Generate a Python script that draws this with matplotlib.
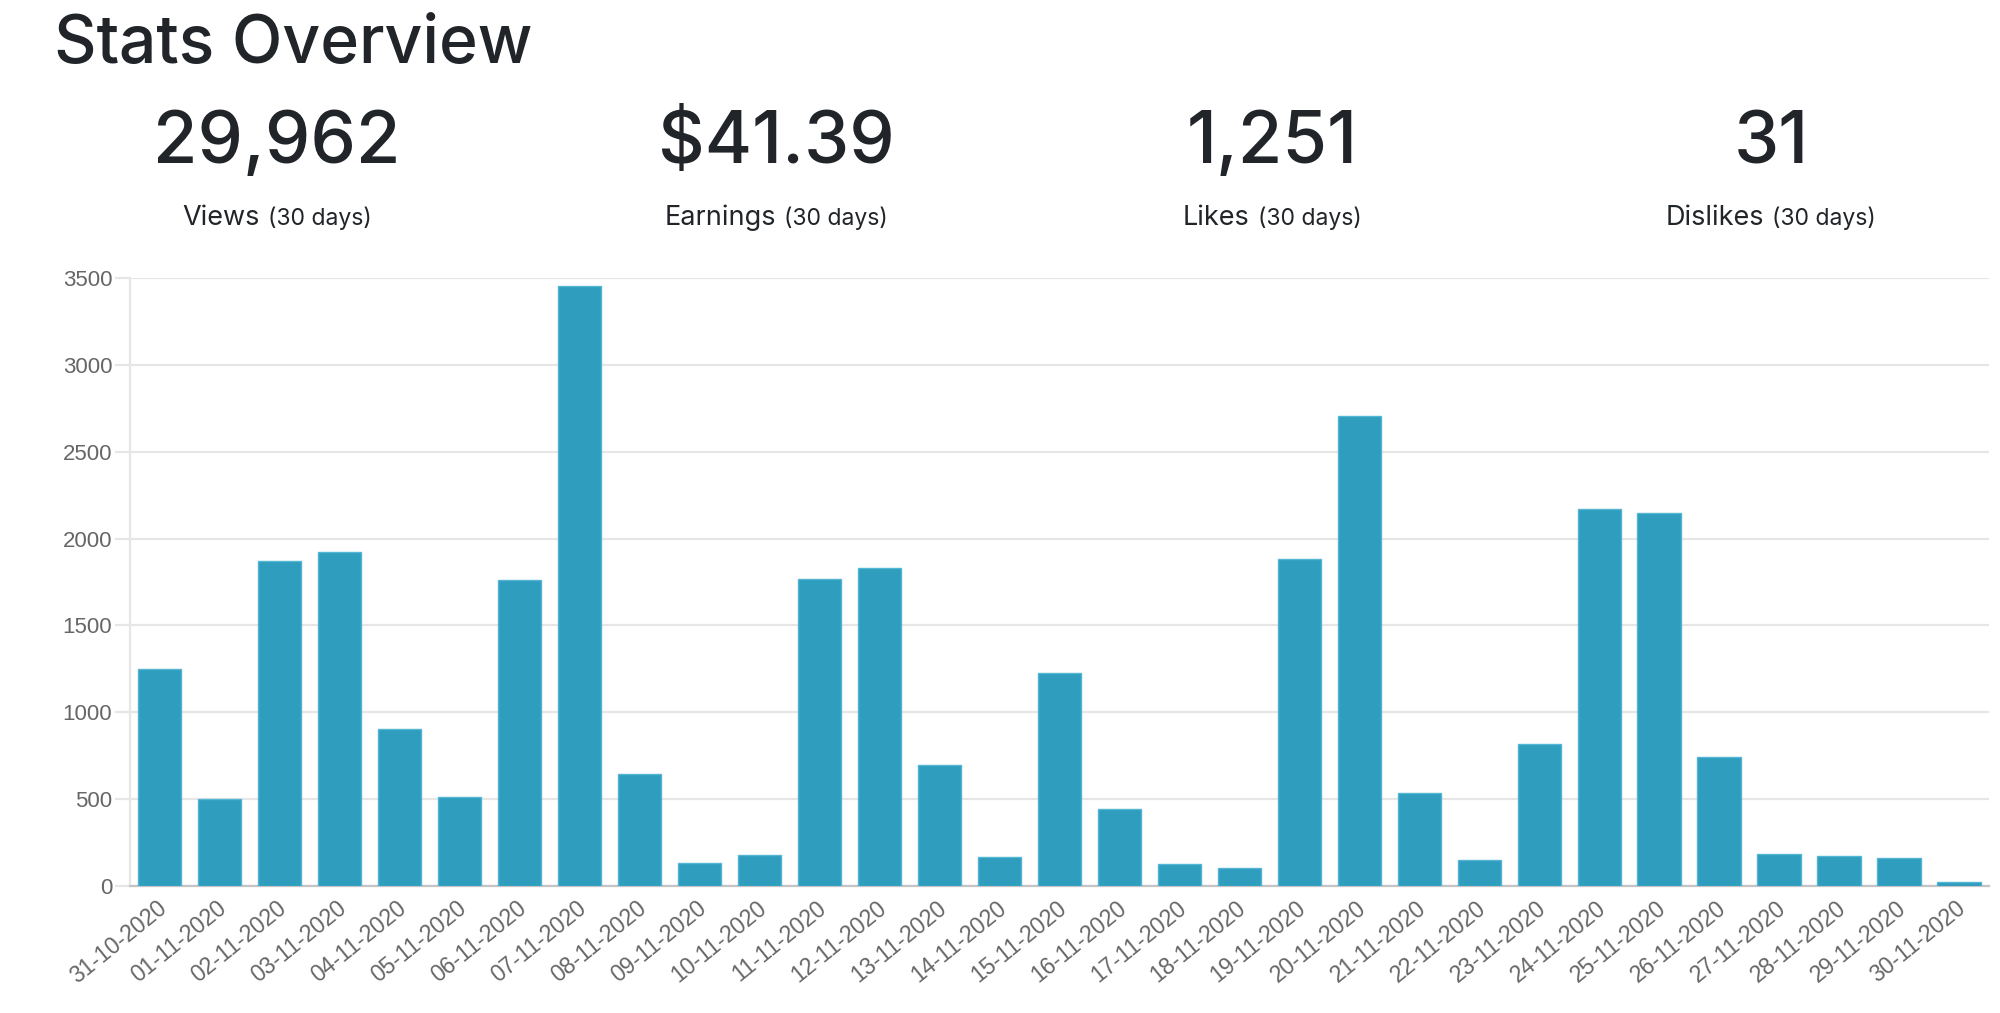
import matplotlib
matplotlib.use("Agg")
import matplotlib.pyplot as plt
import matplotlib.transforms as mtransforms
import numpy as np

# ---------------- data ----------------
dates = ["31-10-2020", "01-11-2020", "02-11-2020", "03-11-2020", "04-11-2020",
         "05-11-2020", "06-11-2020", "07-11-2020", "08-11-2020", "09-11-2020",
         "10-11-2020", "11-11-2020", "12-11-2020", "13-11-2020", "14-11-2020",
         "15-11-2020", "16-11-2020", "17-11-2020", "18-11-2020", "19-11-2020",
         "20-11-2020", "21-11-2020", "22-11-2020", "23-11-2020", "24-11-2020",
         "25-11-2020", "26-11-2020", "27-11-2020", "28-11-2020", "29-11-2020",
         "30-11-2020"]
views = [1251, 500, 1872, 1923, 903, 515, 1764, 3456, 644, 132,
         181, 1766, 1830, 695, 165, 1228, 442, 129, 104, 1885,
         2706, 538, 151, 816, 2168, 2146, 742, 184, 170, 162,
         22]
y_ticks = [0, 500, 1000, 1500, 2000, 2500, 3000, 3500]

stat_values = ["29,962", "$41.39", "1,251", "31"]
stat_names = ["Views", "Earnings", "Likes", "Dislikes"]
stat_period = "(30 days)"
title = "Stats Overview"

# ---------------- style ----------------
W, H, DPI = 2000, 1013, 100
HEAD_FONT = ["Inter", "DejaVu Sans"]
TICK_FONT = ["Liberation Sans", "DejaVu Sans"]
DARK = "#212529"
BAR = "#2e9dbe"
BAR_EDGE = "#55b6d3"
GRID = "#e6e6e6"

fig = plt.figure(figsize=(W / DPI, H / DPI), dpi=DPI)
fig.patch.set_facecolor("white")

# title
fig.text(54 / W, 1 - 63 / H, title, fontsize=47.5, family=HEAD_FONT,
         fontweight="medium", color=DARK, ha="left", va="baseline")

# stats
centers = [277, 776, 1272, 1771]
renderer = fig.canvas.get_renderer()
for cx, val, name in zip(centers, stat_values, stat_names):
    fig.text(cx / W, 1 - 163 / H, val, fontsize=52, family=HEAD_FONT,
             fontweight="medium", color=DARK, ha="center", va="baseline")
    t1 = fig.text(0, 1 - 225 / H, name, fontsize=19.5, family=HEAD_FONT,
                  color=DARK, ha="left", va="baseline")
    t2 = fig.text(0, 1 - 225 / H, stat_period, fontsize=16.5, family=HEAD_FONT,
                  color=DARK, ha="left", va="baseline")
    w1 = t1.get_window_extent(renderer).width
    w2 = t2.get_window_extent(renderer).width
    gap = 8
    total = w1 + gap + w2
    x0 = cx - total / 2
    t1.set_x(x0 / W)
    t2.set_x((x0 + w1 + gap) / W)

# chart
left, right = 129.5, 1989
top, bottom = 278, 886
ax = fig.add_axes([left / W, 1 - bottom / H, (right - left) / W, (bottom - top) / H])
x = np.arange(len(dates))
ax.bar(x, views, width=0.72, color=BAR, edgecolor=BAR_EDGE, linewidth=1, zorder=3)
ax.set_xlim(-0.5, len(dates) - 0.5)
ax.set_ylim(0, 3500)
ax.set_yticks(y_ticks)
ax.set_yticklabels([str(v) for v in y_ticks])
ax.yaxis.grid(True, color=GRID, linewidth=1.6, zorder=0)
ax.xaxis.grid(False)
ax.set_axisbelow(True)
for s in ["top", "right"]:
    ax.spines[s].set_visible(False)
ax.spines["left"].set_color(GRID)
ax.spines["left"].set_linewidth(1.6)
ax.spines["bottom"].set_color("#c4c4c4")
ax.spines["bottom"].set_linewidth(1.6)
ax.tick_params(axis="y", length=11, width=1.6, color=GRID, pad=1.5,
               labelsize=16, labelcolor="#666666")
ax.tick_params(axis="x", length=0, pad=14, labelsize=16.5, labelcolor="#666666")
ax.set_xticks(x)
ax.set_xticklabels(dates, rotation=39, ha="right", va="center", rotation_mode="anchor")
offset = mtransforms.ScaledTranslation(4 / DPI, 0, fig.dpi_scale_trans)
for lab in ax.get_xticklabels():
    lab.set_family(TICK_FONT)
    lab.set_transform(lab.get_transform() + offset)
for lab in ax.get_yticklabels():
    lab.set_family(TICK_FONT)

fig.savefig("out.png", dpi=DPI, facecolor="white")
